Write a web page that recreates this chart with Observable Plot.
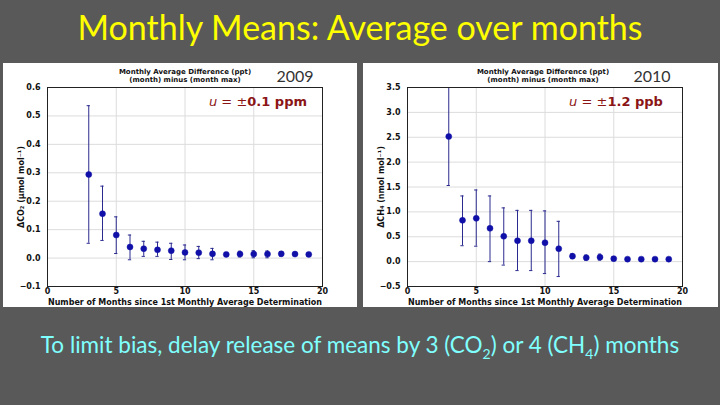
<!DOCTYPE html>
<html><head><meta charset="utf-8">
<script src="https://cdn.jsdelivr.net/npm/d3@7"></script>
<script src="https://cdn.jsdelivr.net/npm/@observablehq/plot@0.6"></script>
<style>
html,body{margin:0;padding:0;}
body{width:720px;height:405px;background:#595959;position:relative;overflow:hidden;font-family:Lato,"Open Sans",sans-serif;}
.abs{position:absolute;}
#title{left:0;width:720px;top:7px;text-align:center;color:#ffff00;font-size:34px;line-height:40px;}
#foot{left:0;width:720px;top:330px;text-align:center;color:#80ffff;font-size:22.5px;line-height:30px;}
.panel{background:#fff;top:63px;height:244px;}
.hdr{font-family:"DejaVu Sans";font-weight:bold;font-size:7px;line-height:8px;text-align:center;color:#111;width:200px;}
.yr{font-family:Lato;font-size:16px;color:#333;width:60px;text-align:center;}
.unc{font-family:"DejaVu Sans";font-size:13px;color:#8b1515;width:140px;text-align:center;}
</style></head><body>
<div id="title" class="abs">Monthly Means: Average over months</div>
<div id="left" class="abs panel" style="left:3px;width:354px;"></div>
<div id="right" class="abs panel" style="left:363px;width:355px;"></div>
<div class="abs hdr" style="left:85px;top:68px;">Monthly Average Difference (ppt)<br>(month) minus (month max)</div>
<div class="abs hdr" style="left:443px;top:68px;">Monthly Average Difference (ppt)<br>(month) minus (month max)</div>
<div class="abs yr" style="left:265px;top:66px;">2009</div>
<div class="abs yr" style="left:622px;top:66px;">2010</div>
<div class="abs unc" style="left:188px;top:94px;"><i>u</i> = ±<b>0.1 ppm</b></div>
<div class="abs unc" style="left:546px;top:94px;"><i>u</i> = ±<b>1.2 ppb</b></div>
<div id="foot" class="abs">To limit bias, delay release of means by 3 (CO<sub style="font-size:14px">2</sub>) or 4 (CH<sub style="font-size:14px">4</sub>) months</div>
<script>
const months = [3,4,5,6,7,8,9,10,11,12,13,14,15,16,17,18,19];
const co2Mean = [0.294,0.156,0.081,0.039,0.033,0.029,0.026,0.020,0.019,0.015,0.013,0.014,0.014,0.014,0.015,0.014,0.013];
const co2Low  = [0.052,0.062,0.016,-0.006,0.006,0.006,-0.005,-0.006,-0.002,-0.006,0.008,0.004,0.001,0.001,0.007,0.008,0.008];
const co2High = [0.536,0.253,0.145,0.081,0.059,0.056,0.052,0.046,0.041,0.034,0.018,0.024,0.026,0.025,0.023,0.020,0.018];
const ch4Mean = [2.515,0.83,0.87,0.67,0.51,0.42,0.42,0.38,0.26,0.11,0.08,0.09,0.06,0.05,0.05,0.05,0.05];
const ch4Low  = [1.53,0.32,0.31,0.00,-0.07,-0.18,-0.18,-0.24,-0.30,0.06,0.03,0.03,0.02,0.03,0.03,0.04,0.03];
const ch4High = [3.5,1.32,1.44,1.32,1.08,1.03,1.03,1.02,0.81,0.16,0.13,0.15,0.10,0.07,0.07,0.06,0.07];
const xTicks = [0,5,10,15,20];
const co2Ticks = [-0.1,0,0.1,0.2,0.3,0.4,0.5,0.6];
const ch4Ticks = [-0.5,0,0.5,1,1.5,2,2.5,3,3.5];

function chart(mean, low, high, yDomain, yTicks, yLabel, mr){
  const data = months.map((m,i)=>({x:m, y:mean[i], lo:low[i], hi:high[i]}));
  const bar = "#2b2b8f";
  return Plot.plot({
    width: 354 + (mr-35), height: 244,
    marginLeft: 44, marginRight: mr, marginTop: 24, marginBottom: 21,
    style: {background:"transparent", fontFamily:"DejaVu Sans", fontSize:"8px", fontWeight:"bold", color:"#111"},
    x: {domain:[0,20], ticks: xTicks, tickFormat: d3.format("d"), tickSize: 0, tickPadding: 2, label: "Number of Months since 1st Monthly Average Determination", labelAnchor:"center", labelArrow:"none"},
    y: {domain: yDomain, ticks: yTicks, tickFormat: d3.format(".1f"), tickSize: 0, tickPadding: 7, label: yLabel, labelAnchor:"center", labelArrow:"none", labelOffset: 29},
    marks: [
      Plot.gridX(xTicks, {stroke:"#dcdcdc", strokeOpacity:1}),
      Plot.gridY(yTicks, {stroke:"#dcdcdc", strokeOpacity:1}),
      Plot.ruleX(data, {x:"x", y1:"lo", y2:"hi", stroke: bar, strokeWidth: 1}),
      Plot.ruleY(data, {y:"lo", x1: d=>d.x-0.12, x2: d=>d.x+0.12, stroke: bar}),
      Plot.ruleY(data, {y:"hi", x1: d=>d.x-0.12, x2: d=>d.x+0.12, stroke: bar}),
      Plot.dot(data, {x:"x", y:"y", r: 3, fill:"#1010a8", stroke:"#1010a8", strokeWidth: 0.5}),
      Plot.frame({stroke:"#222", strokeWidth: 1})
    ]
  });
}
document.getElementById("left").append(chart(co2Mean, co2Low, co2High, [-0.1,0.6], co2Ticks, "ΔCO₂ (μmol mol⁻¹)", 35));
document.getElementById("right").append(chart(ch4Mean, ch4Low, ch4High, [-0.5,3.5], ch4Ticks, "ΔCH₄ (nmol mol⁻¹)", 36));
</script>
</body></html>
